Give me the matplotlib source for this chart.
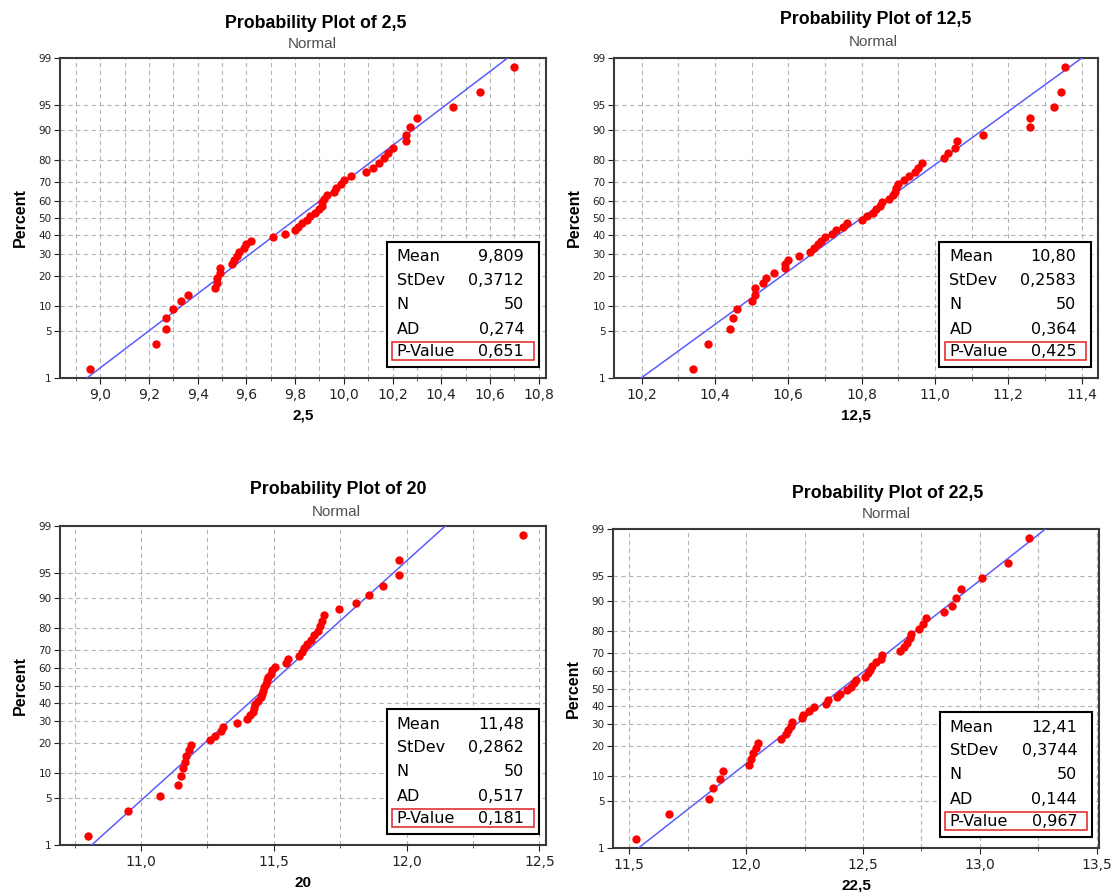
import math
import numpy as np
import matplotlib
matplotlib.use("Agg")
import matplotlib.pyplot as plt
from matplotlib.patches import Rectangle
from matplotlib.ticker import MultipleLocator, FuncFormatter

plt.rcParams['font.family'] = ['DejaVu Sans']

# sorted sample values
sample_2_5 = [8.96, 9.23, 9.27, 9.27, 9.30, 9.33, 9.36, 9.47, 9.48, 9.48,
              9.49, 9.49, 9.54, 9.55, 9.56, 9.57, 9.59, 9.60, 9.62, 9.71,
              9.76, 9.80, 9.81, 9.83, 9.85, 9.86, 9.88, 9.90, 9.91, 9.91,
              9.92, 9.93, 9.96, 9.97, 9.99, 10.00, 10.03, 10.09, 10.12, 10.145,
              10.165, 10.18, 10.20, 10.255, 10.255, 10.27, 10.30, 10.45, 10.56, 10.70]
sample_12_5 = [10.34, 10.38, 10.44, 10.45, 10.46, 10.50, 10.51, 10.51, 10.53, 10.54,
               10.56, 10.59, 10.59, 10.60, 10.63, 10.66, 10.67, 10.68, 10.69, 10.70,
               10.72, 10.73, 10.75, 10.76, 10.80, 10.815, 10.83, 10.84, 10.85, 10.855,
               10.875, 10.885, 10.89, 10.895, 10.90, 10.915, 10.93, 10.945, 10.955, 10.965,
               11.025, 11.035, 11.055, 11.06, 11.13, 11.26, 11.26, 11.325, 11.345, 11.355]
sample_20 = [10.80, 10.95, 11.07, 11.14, 11.15, 11.16, 11.165, 11.17, 11.18, 11.19,
             11.26, 11.28, 11.30, 11.31, 11.36, 11.40, 11.41, 11.42, 11.425, 11.43,
             11.44, 11.45, 11.455, 11.46, 11.465, 11.47, 11.475, 11.48, 11.49, 11.495,
             11.505, 11.545, 11.555, 11.595, 11.605, 11.615, 11.625, 11.64, 11.65, 11.665,
             11.675, 11.68, 11.69, 11.745, 11.81, 11.86, 11.91, 11.97, 11.97, 12.44]
sample_22_5 = [11.53, 11.67, 11.84, 11.86, 11.89, 11.90, 12.01, 12.02, 12.03, 12.04,
               12.05, 12.15, 12.17, 12.18, 12.19, 12.195, 12.24, 12.245, 12.27, 12.29,
               12.34, 12.35, 12.39, 12.40, 12.43, 12.45, 12.46, 12.47, 12.51, 12.52,
               12.53, 12.54, 12.555, 12.575, 12.58, 12.66, 12.675, 12.69, 12.70, 12.705,
               12.74, 12.755, 12.77, 12.845, 12.88, 12.90, 12.92, 13.01, 13.12, 13.21]

names = ["2,5", "12,5", "20", "22,5"]
samples = [sample_2_5, sample_12_5, sample_20, sample_22_5]
means = [9.809, 10.80, 11.48, 12.41]
stdevs = [0.3712, 0.2583, 0.2862, 0.3744]
counts = [50, 50, 50, 50]
ads = [0.274, 0.364, 0.517, 0.144]
pvalues = [0.651, 0.425, 0.181, 0.967]
percent_ticks = [1, 5, 10, 20, 30, 40, 50, 60, 70, 80, 90, 95, 99]

W, H = 1112, 892
xlims = [(8.835, 10.83), (10.125, 11.445), (10.695, 12.525), (11.43, 13.51)]
xmajor = [0.2, 0.2, 0.5, 0.5]
xminor = [0.1, 0.1, 0.25, 0.25]
# axes boxes in pixels: left, top, right, bottom
boxes = [(60, 58, 546, 378), (614, 58, 1098, 378), (60, 526, 546, 845), (613, 529, 1099, 848)]
# title x, title y, subtitle x, subtitle y (pixels)
heads = [(316, 23, 312, 44), (876, 20, 873, 42), (338, 490, 336, 512), (888, 493, 886, 514)]


_erf = np.vectorize(math.erf, otypes=[float])

def norm_cdf(z):
    return 0.5 * (1.0 + _erf(np.asarray(z, dtype=float) / math.sqrt(2.0)))

def norm_ppf(q):
    q = np.clip(np.asarray(q, dtype=float), 1e-9, 1 - 1e-9)
    lo = np.full(q.shape, -8.0)
    hi = np.full(q.shape, 8.0)
    for _ in range(48):
        mid = 0.5 * (lo + hi)
        below = norm_cdf(mid) < q
        lo = np.where(below, mid, lo)
        hi = np.where(below, hi, mid)
    return 0.5 * (lo + hi)

def pct_forward(p):
    return norm_ppf(np.asarray(p, dtype=float) / 100.0)

def pct_inverse(z):
    return 100.0 * norm_cdf(z)

def comma(v, _=None):
    return "{:.1f}".format(v).replace('.', ',')


def stats_box(ax, mean, sd, n, ad, pv):
    bx, by, bw, bh = 0.672, 0.035, 0.313, 0.39
    ax.add_patch(Rectangle((bx, by), bw, bh, transform=ax.transAxes,
                           fc='white', ec='black', lw=1.5, zorder=5))
    rows = [("Mean", "{:#.4g}".format(mean)),
            ("StDev", "{:.4f}".format(sd)),
            ("N", str(n)),
            ("AD", "{:.3f}".format(ad)),
            ("P-Value", "{:.3f}".format(pv))]
    fracs = [0.118, 0.31, 0.50, 0.70, 0.875]
    for (lab, val), f in zip(rows, fracs):
        y = by + bh * (1 - f)
        ax.text(bx + 0.021, y, lab, transform=ax.transAxes, ha='left', va='center',
                fontsize=11.5, zorder=6)
        ax.text(bx + bw - 0.03, y, val.replace('.', ','), transform=ax.transAxes,
                ha='right', va='center', fontsize=11.5, zorder=6)
    ax.add_patch(Rectangle((bx + 0.012, by + bh * 0.056), bw - 0.021, bh * 0.144,
                           transform=ax.transAxes, fc='none', ec='#e02020', lw=1.1, zorder=6))


def prob_plot(fig, k):
    l, t, r, b = boxes[k]
    ax = fig.add_axes([l / W, 1 - b / H, (r - l) / W, (b - t) / H])
    vals = sorted(samples[k])
    n = len(vals)
    pos = (np.arange(1, n + 1) - 0.3) / (n + 0.4) * 100

    ax.set_yscale('function', functions=(pct_forward, pct_inverse))
    ax.set_ylim(1, 99)
    ax.set_xlim(*xlims[k])

    pl = np.linspace(1, 99, 300)
    ax.plot(means[k] + stdevs[k] * norm_ppf(pl / 100), pl, color='#5b5bff', lw=1.1, zorder=3)
    ax.scatter(vals, pos, s=36, color='#ff0000', linewidths=0, zorder=4)

    ax.set_yticks(percent_ticks)
    ax.set_yticklabels([str(p) for p in percent_ticks])
    ax.yaxis.set_minor_locator(plt.NullLocator())
    ax.xaxis.set_major_locator(MultipleLocator(xmajor[k]))
    ax.xaxis.set_minor_locator(MultipleLocator(xminor[k]))
    ax.xaxis.set_major_formatter(FuncFormatter(comma))
    ax.tick_params(axis='x', which='major', direction='out', length=4, labelsize=10,
                   colors='#222222', pad=3)
    ax.tick_params(axis='x', which='minor', direction='out', length=2, colors='#444444')
    ax.tick_params(axis='y', direction='out', length=4, labelsize=7.5, colors='#222222', pad=2)

    grid = dict(color='#b4b4b4', lw=0.8, ls=(0, (4, 3)))
    ax.grid(True, axis='x', which='both', **grid)
    ax.grid(True, axis='y', which='major', **grid)
    ax.set_axisbelow(True)
    for s in ax.spines.values():
        s.set_color('#3a3a3a')
        s.set_linewidth(1.5)

    ax.text(-40 / (r - l), 0.5, "Percent", transform=ax.transAxes, rotation=90,
            ha='center', va='center', fontsize=11.5, fontweight='bold',
            family=['Liberation Sans', 'DejaVu Sans'])
    ax.text(0.5, -38 / (b - t), names[k], transform=ax.transAxes, ha='center', va='center',
            fontsize=11, fontweight='bold', family=['Liberation Sans', 'DejaVu Sans'])

    tx, ty, sx, sy = heads[k]
    fig.text(tx / W, 1 - ty / H, "Probability Plot of " + names[k], ha='center', va='center',
             fontsize=12.8, fontweight='bold', family=['Liberation Sans', 'DejaVu Sans'])
    fig.text(sx / W, 1 - sy / H, "Normal", ha='center', va='center', fontsize=11,
             color='#505050', family=['Liberation Sans', 'DejaVu Sans'])

    stats_box(ax, means[k], stdevs[k], counts[k], ads[k], pvalues[k])


if __name__ == '__main__':
    fig = plt.figure(figsize=(W / 100, H / 100), dpi=100)
    for k in range(4):
        prob_plot(fig, k)
    fig.savefig("out.png", dpi=100, facecolor='white')
